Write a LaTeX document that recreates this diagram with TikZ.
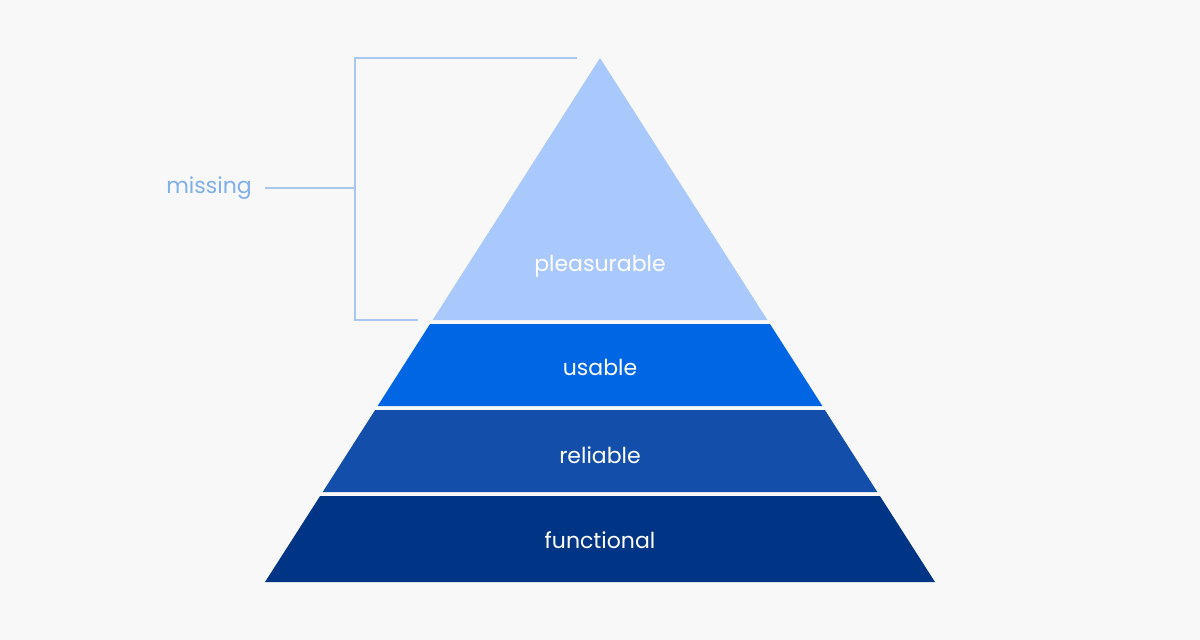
\documentclass[tikz,border=0pt]{standalone}
\usepackage{fontspec}
\setmainfont{Poppins}
\usetikzlibrary{positioning}
\definecolor{bg}{HTML}{F8F8F8}
\definecolor{pleasure}{HTML}{A9C8FC}
\definecolor{usable}{HTML}{0066E3}
\definecolor{reliable}{HTML}{134FAA}
\definecolor{functional}{HTML}{003585}
\definecolor{bracket}{HTML}{A8C8F0}
\definecolor{missing}{HTML}{7FB0E8}

\begin{document}
\begin{tikzpicture}[x=1pt, y=-1pt,
    label/.style = {text=white, font=\fontsize{22}{26}\selectfont},
]
    % background
    \fill[bg] (0,0) rectangle (1200,640);
    \useasboundingbox (0,0) rectangle (1200,640);

    % layers
    \fill[pleasure] (600,58) -- (767.4,320) -- (432.6,320) -- cycle;
    \fill[usable] (430,324) -- (770,324) -- (822.4,406) -- (377.6,406) -- cycle;
    \fill[reliable] (375.1,410) -- (824.9,410) -- (877.3,492) -- (322.7,492) -- cycle;
    \fill[functional] (320.1,496) -- (879.9,496) -- (935,582) -- (265,582) -- cycle;

    % layer labels
    \node[label] (pleasurable) at (600,266) {pleasurable};
    \node[label] (usablelbl) at (600,367) {usable};
    \node[label] (reliablelbl) at (600,455) {reliable};
    \node[label] (functionallbl) at (600,540) {functional};

    % bracket
    \draw[bracket, line width=1.2pt] (577,58) -- (355,58) -- (355,320) -- (418,320);
    \node[text=missing, font=\fontsize{22}{26}\selectfont] (missinglbl) at (209,188) {missing};
    \coordinate (brmid) at (355,188);
    \draw[bracket, line width=1.2pt] (265,188) -- (brmid);
\end{tikzpicture}
\end{document}
